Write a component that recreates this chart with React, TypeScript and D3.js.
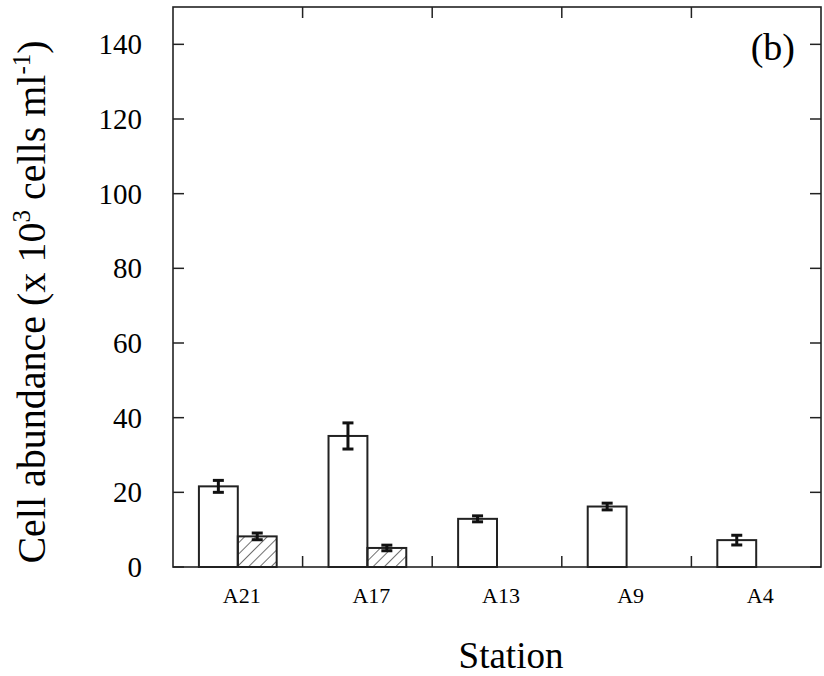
import React from "react";
import * as d3 from "d3";

const stations = ["A21", "A17", "A13", "A9", "A4"];
const openValues = [21.6, 35.1, 12.9, 16.2, 7.2];
const openErrors = [1.6, 3.5, 0.8, 0.9, 1.3];
const hatchedValues: (number | null)[] = [8.2, 5.1, null, null, null];
const hatchedErrors: (number | null)[] = [0.9, 0.75, null, null, null];
const yTicks = [0, 20, 40, 60, 80, 100, 120, 140];

const W = 824;
const H = 676;
const M = { left: 173, right: 821, top: 7, bottom: 567 };
const FONT = "Liberation Serif, Times New Roman, Times, DejaVu Serif, serif";

export default function App() {
  const x = d3.scaleBand<string>().domain(stations).range([M.left, M.right]).paddingInner(0).paddingOuter(0);
  const y = d3.scaleLinear().domain([0, 150]).range([M.bottom, M.top]);
  const bw = x.bandwidth() * 0.3;
  const tickLen = 11;
  const capW = 11;
  const boundaries = stations.slice(1).map((s) => x(s) as number);

  const errBar = (cx: number, v: number, e: number, key: string) => (
    <g key={key} stroke="#111" strokeWidth={3}>
      <line x1={cx} x2={cx} y1={y(v - e)} y2={y(v + e)} />
      <line x1={cx - capW / 2} x2={cx + capW / 2} y1={y(v - e)} y2={y(v - e)} />
      <line x1={cx - capW / 2} x2={cx + capW / 2} y1={y(v + e)} y2={y(v + e)} />
    </g>
  );

  const ts = { fontFamily: FONT };

  return (
    <svg width={W} height={H} style={{ position: "absolute", left: 0, top: 0, background: "#fff", fontFamily: FONT }}>
      <defs>
        <pattern id="hatch" width="8" height="8" patternUnits="userSpaceOnUse" patternTransform="rotate(45)">
          <line x1="0" y1="0" x2="0" y2="8" stroke="#222" strokeWidth="1.3" />
        </pattern>
      </defs>
      <rect x={0} y={0} width={W} height={H} fill="#fff" />

      {stations.map((s, i) => {
        const c = (x(s) as number) + x.bandwidth() / 2;
        return (
          <g key={s}>
            <rect x={c - bw} y={y(openValues[i])} width={bw} height={y(0) - y(openValues[i])} fill="#fff" stroke="#222" strokeWidth={2} />
            {hatchedValues[i] != null && (
              <rect x={c} y={y(hatchedValues[i] as number)} width={bw} height={y(0) - y(hatchedValues[i] as number)} fill="url(#hatch)" stroke="#222" strokeWidth={2} />
            )}
          </g>
        );
      })}
      {stations.map((s, i) => {
        const c = (x(s) as number) + x.bandwidth() / 2;
        return (
          <g key={s + "e"}>
            {errBar(c - bw / 2, openValues[i], openErrors[i], s + "o")}
            {hatchedValues[i] != null && errBar(c + bw / 2, hatchedValues[i] as number, hatchedErrors[i] as number, s + "h")}
          </g>
        );
      })}

      <rect x={M.left} y={M.top} width={M.right - M.left} height={M.bottom - M.top} fill="none" stroke="#222" strokeWidth={1.6} />

      {yTicks.map((t) => (
        <g key={t}>
          <line x1={M.left} x2={M.left + tickLen} y1={y(t)} y2={y(t)} stroke="#222" strokeWidth={1.5} />
          <line x1={M.right - tickLen} x2={M.right} y1={y(t)} y2={y(t)} stroke="#222" strokeWidth={1.5} />
          <text style={ts} x={142} y={y(t) + 10} textAnchor="end" fontSize={29} fill="#000">{t}</text>
        </g>
      ))}

      {boundaries.map((b, i) => (
        <g key={i}>
          <line x1={b} x2={b} y1={M.bottom} y2={M.bottom - tickLen} stroke="#222" strokeWidth={1.5} />
          <line x1={b} x2={b} y1={M.top} y2={M.top + tickLen} stroke="#222" strokeWidth={1.5} />
        </g>
      ))}
      {stations.map((s) => (
        <text style={ts} key={s} x={(x(s) as number) + x.bandwidth() / 2 + 4} y={603} textAnchor="middle" fontSize={22} fill="#000">{s}</text>
      ))}

      <text style={ts} x={511} y={668} textAnchor="middle" fontSize={37} fill="#000">Station</text>
      <text style={ts} transform="translate(45,302) rotate(-90)" textAnchor="middle" fontSize={40} fill="#000">
        Cell abundance (x 10<tspan fontSize={25} dy={-15}>3</tspan><tspan dy={15}> cells ml</tspan><tspan fontSize={25} dy={-15}>-1</tspan><tspan dy={15}>)</tspan>
      </text>
      <text style={ts} x={795} y={60} textAnchor="end" fontSize={38} fill="#000">(b)</text>
    </svg>
  );
}
